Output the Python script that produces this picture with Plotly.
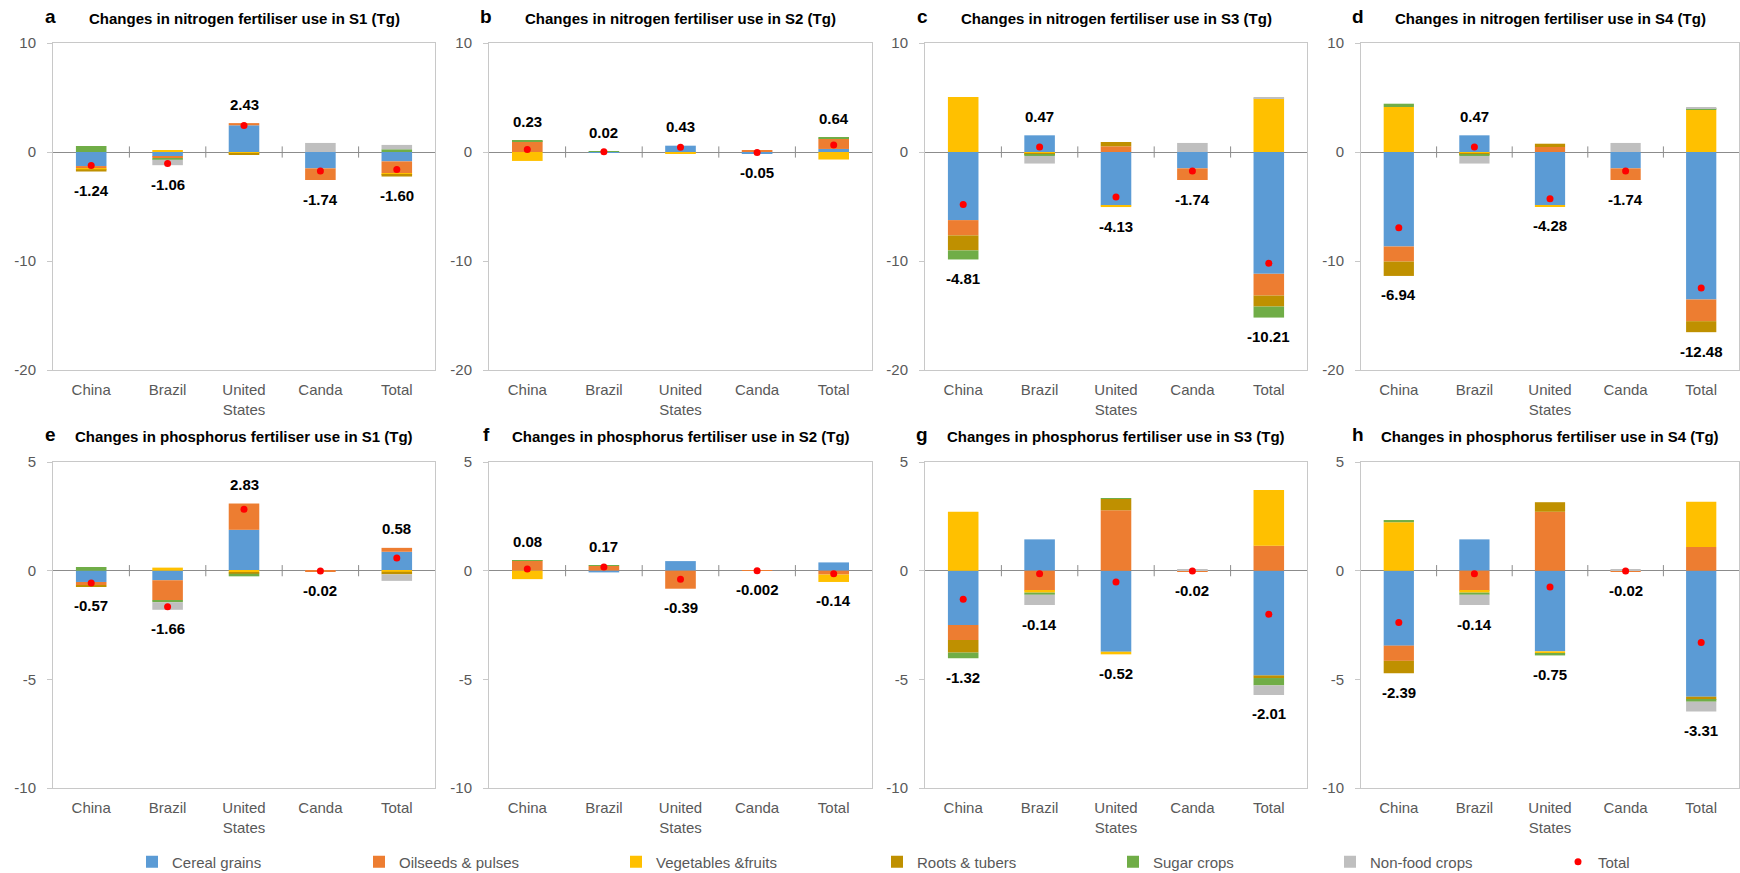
import plotly.graph_objects as go

# ---------------- data ----------------
categories = ["China", "Brazil", "United States", "Canda", "Total"]
tick_labels = ["China", "Brazil", "United<br>States", "Canda", "Total"]
crops = ["Cereal grains", "Oilseeds & pulses", "Vegetables &fruits",
         "Roots & tubers", "Sugar crops", "Non-food crops"]
crop_colors = ["#5B9BD5", "#ED7D31", "#FFC000", "#BF9000", "#70AD47", "#BFBFBF"]

# Panel a: nitrogen S1
a_cereal = [-1.29, -0.43, 2.45, -1.50, -0.86]
a_oil = [-0.20, -0.12, 0.20, -1.07, -1.09]
a_veg = [-0.10, 0.15, -0.12, 0.0, -0.12]
a_roots = [-0.20, 0.0, -0.10, 0.0, -0.18]
a_sugar = [0.55, -0.15, 0.0, 0.0, 0.25]
a_nonfood = [0.0, -0.51, 0.0, 0.83, 0.40]
a_total = [-1.24, -1.06, 2.43, -1.74, -1.60]

# Panel b: nitrogen S2
b_cereal = [0.0, -0.05, 0.58, -0.17, 0.28]
b_oil = [1.00, 0.0, -0.08, 0.12, 0.95]
b_veg = [-0.82, 0.0, -0.07, 0.0, -0.69]
b_roots = [0.0, 0.0, 0.0, 0.0, 0.0]
b_sugar = [0.05, 0.07, 0.0, 0.0, 0.10]
b_nonfood = [0.0, 0.0, 0.0, 0.0, 0.0]
b_total = [0.23, 0.02, 0.43, -0.05, 0.64]

# Panel c: nitrogen S3
c_cereal = [-6.25, 1.53, -4.90, -1.50, -11.18]
c_oil = [-1.40, -0.05, 0.52, -1.07, -1.99]
c_veg = [5.05, -0.10, -0.15, 0.0, 4.90]
c_roots = [-1.38, -0.08, 0.40, 0.0, -1.01]
c_sugar = [-0.83, -0.13, 0.0, 0.0, -1.01]
c_nonfood = [0.0, -0.70, 0.0, 0.83, 0.08]
c_total = [-4.81, 0.47, -4.13, -1.74, -10.21]

# Panel d: nitrogen S4
d_cereal = [-8.67, 1.53, -4.87, -1.50, -13.53]
d_oil = [-1.38, -0.05, 0.46, -1.07, -1.99]
d_veg = [4.13, -0.10, -0.17, 0.0, 3.89]
d_roots = [-1.32, -0.08, 0.30, 0.0, -1.01]
d_sugar = [0.30, -0.13, 0.0, 0.0, 0.08]
d_nonfood = [0.0, -0.70, 0.0, 0.83, 0.08]
d_total = [-6.94, 0.47, -4.28, -1.74, -12.48]

# Panel e: phosphorus S1
e_cereal = [-0.52, -0.44, 1.88, 0.03, 0.87]
e_oil = [-0.14, -0.93, 1.21, -0.05, 0.18]
e_veg = [0.0, 0.14, -0.08, 0.0, -0.05]
e_roots = [-0.08, 0.0, -0.06, 0.0, -0.12]
e_sugar = [0.17, -0.08, -0.12, 0.0, 0.0]
e_nonfood = [0.0, -0.35, 0.0, 0.0, -0.30]
e_total = [-0.57, -1.66, 2.83, -0.02, 0.58]

# Panel f: phosphorus S2
f_cereal = [0.0, -0.08, 0.44, 0.01, 0.38]
f_oil = [0.47, 0.22, -0.83, -0.012, -0.18]
f_veg = [-0.39, 0.0, 0.0, 0.0, -0.34]
f_roots = [0.0, 0.0, 0.0, 0.0, 0.0]
f_sugar = [0.02, 0.03, 0.0, 0.0, 0.0]
f_nonfood = [0.0, 0.0, 0.0, 0.0, 0.0]
f_total = [0.08, 0.17, -0.39, -0.002, -0.14]

# Panel g: phosphorus S3
g_cereal = [-2.50, 1.44, -3.73, 0.0, -4.82]
g_oil = [-0.69, -0.92, 2.78, -0.06, 1.15]
g_veg = [2.71, -0.09, -0.12, 0.0, 2.56]
g_roots = [-0.58, 0.0, 0.52, 0.0, -0.12]
g_sugar = [-0.26, -0.10, 0.03, 0.0, -0.34]
g_nonfood = [0.0, -0.47, 0.0, 0.04, -0.44]
g_total = [-1.32, -0.14, -0.52, -0.02, -2.01]

# Panel h: phosphorus S4
h_cereal = [-3.45, 1.44, -3.71, 0.0, -5.80]
h_oil = [-0.70, -0.92, 2.71, -0.06, 1.09]
h_veg = [2.23, -0.09, -0.10, 0.0, 2.08]
h_roots = [-0.57, 0.0, 0.44, 0.0, -0.14]
h_sugar = [0.10, -0.10, -0.09, 0.0, -0.09]
h_nonfood = [0.0, -0.47, 0.0, 0.04, -0.45]
h_total = [-2.39, -0.14, -0.75, -0.02, -3.31]

panel_letters = ["a", "b", "c", "d", "e", "f", "g", "h"]
panel_titles = [
    "Changes in nitrogen fertiliser use in S1 (Tg)",
    "Changes in nitrogen fertiliser use in S2 (Tg)",
    "Changes in nitrogen fertiliser use in S3 (Tg)",
    "Changes in nitrogen fertiliser use in S4 (Tg)",
    "Changes in phosphorus fertiliser use in S1 (Tg)",
    "Changes in phosphorus fertiliser use in S2 (Tg)",
    "Changes in phosphorus fertiliser use in S3 (Tg)",
    "Changes in phosphorus fertiliser use in S4 (Tg)",
]
panel_series = [
    [a_cereal, a_oil, a_veg, a_roots, a_sugar, a_nonfood],
    [b_cereal, b_oil, b_veg, b_roots, b_sugar, b_nonfood],
    [c_cereal, c_oil, c_veg, c_roots, c_sugar, c_nonfood],
    [d_cereal, d_oil, d_veg, d_roots, d_sugar, d_nonfood],
    [e_cereal, e_oil, e_veg, e_roots, e_sugar, e_nonfood],
    [f_cereal, f_oil, f_veg, f_roots, f_sugar, f_nonfood],
    [g_cereal, g_oil, g_veg, g_roots, g_sugar, g_nonfood],
    [h_cereal, h_oil, h_veg, h_roots, h_sugar, h_nonfood],
]
panel_totals = [a_total, b_total, c_total, d_total, e_total, f_total, g_total, h_total]
nitrogen_range = [-20, 10]
phosphorus_range = [-10, 5]

# ---------------- layout geometry ----------------
W, H = 1740, 873
FONT = "Liberation Sans, Arial, sans-serif"
col_px = [(53, 435), (489, 872), (925, 1307), (1361, 1739)]
row_px = [(43, 370), (462, 788)]
title_y_px = [18, 436]
legend_text_px = [172, 399, 656, 917, 1153, 1370, 1598]
legend_y_px = 862

fig = go.Figure()
layout = dict(
    width=W, height=H, margin=dict(l=0, r=0, t=0, b=0, autoexpand=False),
    paper_bgcolor="white", plot_bgcolor="white",
    barmode="relative", bargap=0.6,
    font=dict(family=FONT, size=15, color="#595959"),
    showlegend=True,
    hovermode=False,
)
annotations = []
xpos = list(range(len(categories)))

for p in range(8):
    r, c = divmod(p, 4)
    sfx = "" if p == 0 else str(p + 1)
    xa, ya = "x" + sfx, "y" + sfx
    x0, x1 = col_px[c]
    top, bot = row_px[r]
    yrange = nitrogen_range if r == 0 else phosphorus_range
    step = (yrange[1] - yrange[0]) / 3
    yticks = [yrange[0] + j * step for j in range(4)]
    layout["xaxis" + sfx] = dict(
        domain=[x0 / W, x1 / W], anchor=ya, range=[-0.5, len(categories) - 0.5],
        tickvals=xpos, ticktext=tick_labels, showgrid=False, zeroline=False,
        showline=True, linecolor="#C8C8C8", linewidth=1, mirror=True, ticks="",
        ticklabelstandoff=6, tickfont=dict(size=15, color="#595959"),
    )
    layout["yaxis" + sfx] = dict(
        domain=[1 - bot / H, 1 - top / H], anchor=xa, range=yrange,
        tickvals=yticks, ticktext=[str(int(v)) for v in yticks], showgrid=False,
        zeroline=True, zerolinecolor="#8C8C8C", zerolinewidth=1,
        showline=True, linecolor="#C8C8C8", linewidth=1, mirror=True,
        ticks="outside", ticklen=5, tickcolor="#C8C8C8",
        ticklabelstandoff=8, tickfont=dict(size=15, color="#595959"),
    )
    series = panel_series[p]
    for k, vals in enumerate(series):
        fig.add_trace(go.Bar(
            x=xpos, y=vals, name=crops[k], marker=dict(color=crop_colors[k], line=dict(width=0)),
            xaxis=xa, yaxis=ya, showlegend=(p == 0),
            legend="legend" if k == 0 else "legend" + str(k + 1),
        ))
    # tick marks between categories on the zero line
    fig.add_trace(go.Scatter(
        x=[i + 0.5 for i in xpos[:-1]], y=[0] * (len(xpos) - 1), mode="markers",
        marker=dict(symbol="line-ns", size=8, line=dict(color="#8C8C8C", width=1)),
        xaxis=xa, yaxis=ya, showlegend=False, hoverinfo="skip",
    ))
    totals = panel_totals[p]
    fig.add_trace(go.Scatter(
        x=xpos, y=totals, mode="markers", name="Total",
        marker=dict(color="#FF0000", size=7), xaxis=xa, yaxis=ya,
        showlegend=(p == 0), legend="legend7",
    ))
    # total labels placed beyond the end of the stacked bar
    for i, t in enumerate(totals):
        pos = sum(v for v in (s[i] for s in series) if v > 0)
        neg = sum(v for v in (s[i] for s in series) if v < 0)
        txt = f"{t:.3f}" if (t != 0 and abs(t) < 0.01) else f"{t:.2f}"
        annotations.append(dict(x=i, y=pos if t >= 0 else neg, xref=xa, yref=ya,
                                text="<b>" + txt + "</b>", showarrow=False,
                                yshift=19 if t >= 0 else -19, yanchor="middle",
                                font=dict(family=FONT, size=15, color="#000000")))
    # panel title and letter
    annotations.append(dict(x=((x0 + x1) / 2) / W, y=1 - title_y_px[r] / H, xref="paper", yref="paper",
                            text="<b>" + panel_titles[p] + "</b>", showarrow=False,
                            xanchor="center", yanchor="middle",
                            font=dict(family=FONT, size=15, color="#000000")))
    annotations.append(dict(x=(x0 - 3) / W, y=1 - (title_y_px[r] - 2) / H, xref="paper", yref="paper",
                            text="<b>" + panel_letters[p] + "</b>", showarrow=False,
                            xanchor="center", yanchor="middle",
                            font=dict(family=FONT, size=19, color="#000000")))

layout["annotations"] = annotations
for k, tx in enumerate(legend_text_px):
    key = "legend" if k == 0 else "legend" + str(k + 1)
    layout[key] = dict(
        orientation="h", x=(tx - 40) / W, y=1 - legend_y_px / H, xanchor="left", yanchor="middle",
        itemwidth=30, font=dict(family=FONT, size=15, color="#595959"),
        bgcolor="rgba(0,0,0,0)", borderwidth=0,
    )
fig.update_layout(**layout)

fig.write_html("out.html", config={"displayModeBar": False},
               post_script="document.body.style.margin='0px';document.body.style.overflow='hidden';")
